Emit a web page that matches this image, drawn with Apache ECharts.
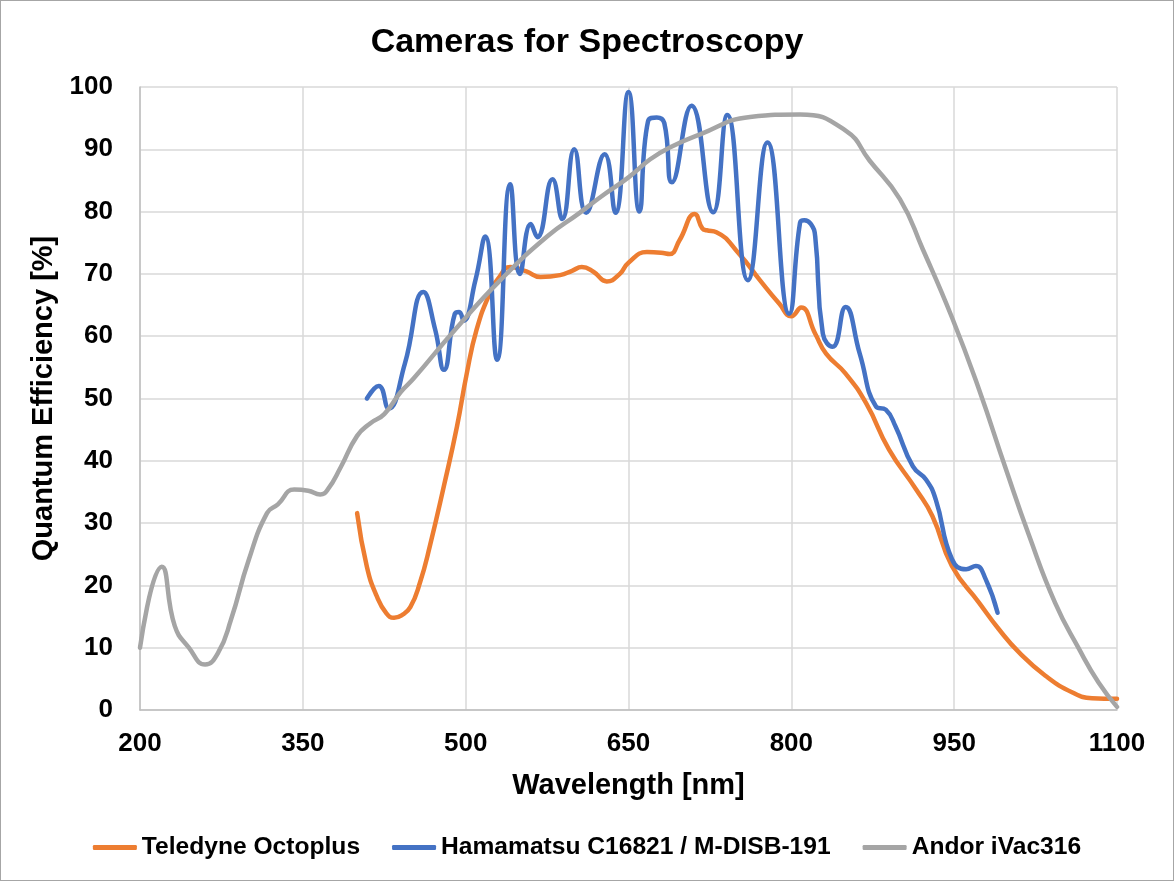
<!DOCTYPE html>
<html>
<head>
<meta charset="utf-8">
<script src="https://cdn.jsdelivr.net/npm/echarts@6/dist/echarts.min.js"></script>
<style>
  * { margin: 0; padding: 0; }
  html, body { width: 1174px; height: 881px; background: #fff; }
  #chart-container {
    width: 1174px;
    height: 881px;
    box-sizing: border-box;
    border: 1px solid #a6a6a6;
  }
</style>
</head>
<body>
<div id="chart-container"></div>
<script>
  // Teledyne Octoplus
  var octoplusNm = [400, 409, 418, 427, 434, 441, 449, 458, 467, 480, 492, 501, 510, 522, 531, 541, 556, 569, 587, 598, 607, 618, 630, 642, 650, 667, 680, 688, 697, 711, 718, 722, 731, 752, 771, 789, 800, 809, 822, 832, 850, 869, 890, 915, 930, 948, 973, 991, 1010, 1034, 1059, 1077, 1100]
  var octoplusQE = [31.6, 23, 18.3, 15.5, 14.8, 15.2, 16.5, 20.5, 26.3, 36, 45.5, 54, 61, 66.8, 69.5, 71.1, 70.4, 69.5, 69.8, 70.5, 71.1, 70.3, 68.8, 70, 71.8, 73.5, 73.4, 73.2, 75.4, 79.6, 77.3, 77, 76.7, 73.2, 69, 65.2, 63.2, 64.6, 60.4, 57.2, 54, 49.2, 41.8, 35.4, 31.1, 23.1, 17.2, 13, 9.2, 5.5, 2.8, 1.9, 1.8]

  // Hamamatsu C16821 / M-DISB-191
  var hamamatsuNm = [409, 420, 429, 444, 461, 472, 480, 490, 494, 498, 509, 518, 529, 541, 550, 560, 566, 580, 589, 600, 611, 628, 638, 650, 660, 668, 676, 683, 690, 708, 728, 741, 760, 778, 798, 808, 812, 818, 822, 829, 838, 850, 863, 878, 887, 896, 912, 924, 933, 948, 961, 970, 979, 990]
  var hamamatsuQE = [50, 52, 48.4, 55.6, 67.1, 61, 54.6, 63.6, 63.9, 62.5, 69, 76, 56.2, 84.4, 70, 78, 75.9, 85.2, 78.8, 90, 79.8, 89.2, 79.8, 99.2, 80, 94.5, 95.1, 94.2, 84.7, 97, 79.9, 95.5, 69, 91.1, 63.6, 78.2, 78.6, 78, 76, 60.4, 58.3, 64.7, 57.2, 48.7, 48.2, 45.5, 39.1, 37, 33.8, 24.2, 22.6, 23.1, 21, 15.6]

  // Andor iVac316
  var andorNm = [200, 220, 232, 245, 260, 272, 284, 300, 317, 327, 342, 355, 366, 373, 385, 400, 412, 425, 440, 452, 490, 532, 575, 605, 624, 650, 670, 688, 716, 762, 808, 850, 872, 900, 921, 948, 973, 997, 1019, 1043, 1065, 1083, 1100]
  var andorQE = [10, 23, 13.5, 10, 7.3, 9.2, 14.6, 24, 31.6, 33, 35.4, 35.2, 34.6, 35.4, 39, 44, 46, 47.5, 51, 53.2, 61, 69, 76, 79.8, 82.3, 85.5, 88.4, 90.3, 92.4, 95.2, 95.6, 93, 88.2, 82, 74, 63, 51.4, 39, 28, 17.2, 9.8, 4.4, 0.5]

  var seriesNames = ['Teledyne Octoplus', 'Hamamatsu C16821 / M-DISB-191', 'Andor iVac316']
  var seriesColors = ['#ED7D31', '#4472C4', '#A5A5A5']

  function pairs(xs, ys) {
    return xs.map(function (x, i) { return [x, ys[i]] })
  }

  var font = 'Liberation Sans, Arial, sans-serif'
  var chartDom = document.getElementById('chart-container')
  var myChart = echarts.init(chartDom, null, { renderer: 'canvas' })

  function line(name, color, data) {
    return {
      name: name,
      type: 'line',
      data: data,
      smooth: 0.5,
      showSymbol: false,
      lineStyle: { color: color, width: 4.5, cap: 'round', join: 'round' },
      itemStyle: { color: color },
    }
  }

  var option = {
    animation: false,
    title: {
      text: 'Cameras for Spectroscopy',
      left: 'center',
      top: 20,
      textStyle: { fontFamily: font, fontWeight: 'bold', fontSize: 34, color: '#000' },
    },
    legend: {
      data: seriesNames,
      left: 'center',
      bottom: 15,
      itemWidth: 44,
      itemHeight: 5,
      itemGap: 32,
      icon: 'roundRect',
      textStyle: { fontFamily: font, fontWeight: 'bold', fontSize: 24.6, color: '#000', padding: [0, 0, 0, 0] },
    },
    grid: { left: 139, right: 56, top: 86, bottom: 170, containLabel: false },
    xAxis: {
      type: 'value',
      min: 200,
      max: 1100,
      interval: 150,
      name: 'Wavelength [nm]',
      nameLocation: 'middle',
      nameGap: 61,
      nameTextStyle: { fontFamily: font, fontWeight: 'bold', fontSize: 29, color: '#000' },
      axisLine: { lineStyle: { color: '#bfbfbf', width: 1.5 } },
      axisTick: { show: false },
      axisLabel: {
        margin: 21,
        fontFamily: font,
        fontWeight: 'bold',
        fontSize: 26,
        color: '#000',
        formatter: function (v) { return String(v) },
      },
      splitLine: { show: true, lineStyle: { color: '#d9d9d9', width: 1.5 } },
    },
    yAxis: {
      type: 'value',
      min: 0,
      max: 100,
      interval: 10,
      name: 'Quantum Efficiency [%]',
      nameLocation: 'middle',
      nameGap: 75,
      nameTextStyle: { fontFamily: font, fontWeight: 'bold', fontSize: 29, color: '#000' },
      axisLine: { show: true, lineStyle: { color: '#bfbfbf', width: 1.5 } },
      axisTick: { show: false },
      axisLabel: { margin: 27, fontFamily: font, fontWeight: 'bold', fontSize: 26, color: '#000' },
      splitLine: { show: true, lineStyle: { color: '#d9d9d9', width: 1.5 } },
    },
    series: [
      line(seriesNames[0], seriesColors[0], pairs(octoplusNm, octoplusQE)),
      line(seriesNames[1], seriesColors[1], pairs(hamamatsuNm, hamamatsuQE)),
      line(seriesNames[2], seriesColors[2], pairs(andorNm, andorQE)),
    ],
  }
  myChart.setOption(option)
</script>
</body>
</html>
